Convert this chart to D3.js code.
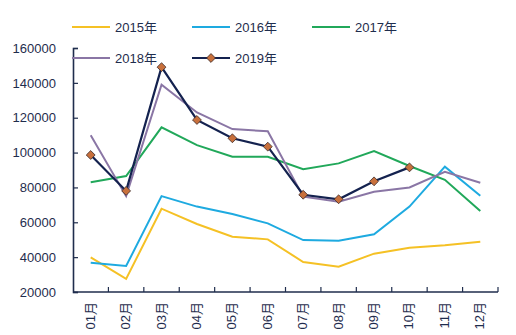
<!DOCTYPE html>
<html>
<head>
<meta charset="utf-8">
<script src="https://cdn.jsdelivr.net/npm/d3@7"></script>
<style>
  body { margin: 0; background: #fff; }
  svg { font-family: "Liberation Sans", "Noto Sans CJK SC", sans-serif; }
</style>
</head>
<body>
<div class="graph"></div>
<script>
const months = ['01月', '02月', '03月', '04月', '05月', '06月', '07月', '08月', '09月', '10月', '11月', '12月'];
const yTicks = [20000, 40000, 60000, 80000, 100000, 120000, 140000, 160000];

const v2015 = [39900, 27500, 67800, 59000, 51700, 50200, 37200, 34500, 42000, 45400, 46800, 48900];
const v2016 = [36800, 34900, 75000, 69000, 64700, 59400, 49800, 49400, 53100, 69000, 91900, 75200];
const v2017 = [83000, 86500, 114500, 104300, 97600, 97600, 90400, 93800, 100900, 92300, 84400, 66500];
const v2018 = [110000, 75000, 139000, 123000, 113500, 112200, 74700, 71800, 77500, 80000, 89000, 82700];
const v2019 = [98600, 78000, 149000, 118700, 108200, 103400, 75800, 73200, 83500, 91500];

const seriesNames = ['2015年', '2016年', '2017年', '2018年', '2019年'];
const seriesValues = [v2015, v2016, v2017, v2018, v2019];

document.addEventListener('DOMContentLoaded', function () {
  const width = 516;
  const height = 335;
  const axisColor = '#1f2d4d';
  const colors = ['#f5c125', '#1eaae0', '#21a85a', '#8a76a5', '#14224f'];

  const svg = d3.select('.graph')
    .append('svg')
    .attr('width', width)
    .attr('height', height);

  // Scales
  const x = d3.scaleBand().domain(months).range([73, 498]);
  const y = d3.scaleLinear().domain([20000, 160000]).range([292, 48]);

  // Y axis
  const yAxis = svg.append('g')
    .attr('transform', 'translate(73,0)')
    .call(d3.axisLeft(y).tickValues(yTicks).tickSize(-5).tickPadding(17).tickFormat(d3.format('d')));
  yAxis.select('.domain').attr('stroke', axisColor).attr('stroke-width', 1.6);
  yAxis.selectAll('.tick line').attr('stroke', axisColor).attr('stroke-width', 1.2);
  yAxis.selectAll('text').attr('fill', axisColor).attr('font-size', '13px');

  // X axis (ticks at band edges)
  const xAxisG = svg.append('g').attr('transform', 'translate(0,292)');
  xAxisG.append('line')
    .attr('x1', 73).attr('x2', 498)
    .attr('stroke', axisColor).attr('stroke-width', 1.6);
  xAxisG.selectAll('.xtick')
    .data(months)
    .enter()
    .append('line')
    .attr('x1', d => x(d) + x.bandwidth())
    .attr('x2', d => x(d) + x.bandwidth())
    .attr('y1', 0).attr('y2', -5)
    .attr('stroke', axisColor).attr('stroke-width', 1.2);
  xAxisG.selectAll('.xlabel')
    .data(months)
    .enter()
    .append('text')
    .attr('transform', d => `translate(${x(d) + x.bandwidth() / 2 + 4},10) rotate(-90)`)
    .attr('text-anchor', 'end')
    .attr('font-size', '13px')
    .attr('fill', axisColor)
    .text(d => d);

  // Lines
  const line = d3.line()
    .x((d, i) => x(months[i]) + x.bandwidth() / 2)
    .y(d => y(d));

  seriesValues.forEach((vals, k) => {
    svg.append('path')
      .datum(vals)
      .attr('d', line)
      .attr('fill', 'none')
      .attr('stroke', colors[k])
      .attr('stroke-width', k === 4 ? 2.2 : 2);
  });

  // 2019 markers
  const diamond = d3.symbol().type(d3.symbolDiamond2).size(50);
  svg.selectAll('.marker')
    .data(v2019)
    .enter()
    .append('path')
    .attr('d', diamond)
    .attr('transform', (d, i) => `translate(${x(months[i]) + x.bandwidth() / 2},${y(d)})`)
    .attr('fill', '#c8703c')
    .attr('stroke', '#3a2a2a')
    .attr('stroke-width', 0.8);

  // Legend
  const legendPos = [[72, 27], [192, 27], [312, 27], [72, 58], [192, 58]];
  const legend = svg.append('g').attr('class', 'legend');
  seriesNames.forEach((name, k) => {
    const [lx, ly] = legendPos[k];
    legend.append('line')
      .attr('x1', lx).attr('x2', lx + 38)
      .attr('y1', ly).attr('y2', ly)
      .attr('stroke', colors[k])
      .attr('stroke-width', 2);
    if (k === 4) {
      legend.append('path')
        .attr('d', diamond)
        .attr('transform', `translate(${lx + 19},${ly})`)
        .attr('fill', '#c8703c')
        .attr('stroke', '#3a2a2a')
        .attr('stroke-width', 0.8);
    }
    legend.append('text')
      .attr('x', lx + 43)
      .attr('y', ly)
      .attr('dy', '.35em')
      .attr('font-size', '13px')
      .attr('fill', axisColor)
      .text(name);
  });
});
</script>
</body>
</html>
